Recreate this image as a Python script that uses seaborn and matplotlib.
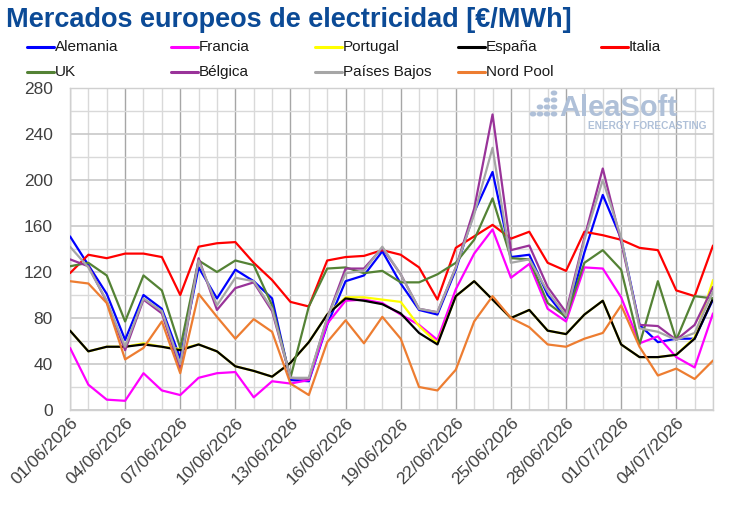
import numpy as np
import pandas as pd
import matplotlib
matplotlib.use("Agg")
import matplotlib.pyplot as plt
import matplotlib.dates as mdates
from matplotlib.lines import Line2D
import seaborn as sns

fechas = pd.date_range("2026-06-01", periods=36, freq="D")

alemania = [151, 126, 101, 61, 100, 88, 45, 124, 97, 122, 112, 97, 26, 25, 74, 112, 117, 138, 110, 87,
            83, 122, 172, 207, 133, 135, 100, 80, 137, 187, 149, 74, 59, 62, 62, 96]
francia = [54, 22, 9, 8, 32, 17, 13, 28, 32, 33, 11, 25, 23, 26, 75, 95, 96, 93, 83, 74,
           61, 105, 136, 157, 115, 127, 88, 77, 124, 123, 98, 58, 64, 46, 37, 84]
portugal = [69, 51, 55, 55, 58, 55, 53, 57, 51, 38, 34, 29, 41, 59, 83, 98, 98, 96, 94, 73,
            58, 99, 112, 96, 80, 87, 69, 66, 83, 95, 57, 46, 46, 48, 63, 113]
espana = [69, 51, 55, 55, 57, 55, 52, 57, 51, 38, 34, 29, 41, 59, 83, 97, 95, 92, 84, 67,
          57, 99, 112, 96, 80, 87, 69, 66, 83, 95, 57, 46, 46, 48, 62, 97]
italia = [119, 135, 132, 136, 136, 133, 100, 142, 145, 146, 128, 113, 94, 90, 130, 133, 134, 139, 135, 124,
          96, 141, 151, 161, 149, 155, 128, 121, 155, 152, 148, 141, 139, 104, 99, 143]
uk = [125, 128, 117, 77, 117, 104, 54, 130, 120, 130, 126, 91, 28, 90, 123, 124, 119, 121, 111, 111,
      118, 128, 148, 184, 132, 131, 93, 81, 128, 139, 122, 57, 112, 61, 99, 97]
belgica = [131, 125, 94, 52, 96, 84, 36, 132, 87, 106, 111, 86, 28, 27, 80, 123, 123, 141, 118, 88,
           85, 124, 175, 257, 139, 143, 107, 85, 150, 210, 146, 74, 73, 61, 74, 107]
paises_bajos = [142, 124, 95, 55, 97, 86, 40, 130, 91, 115, 112, 88, 28, 28, 80, 119, 121, 142, 118, 88,
                85, 124, 170, 228, 128, 131, 103, 82, 148, 200, 150, 71, 68, 61, 67, 103]
nord_pool = [112, 110, 93, 44, 54, 77, 32, 101, 81, 62, 79, 68, 23, 13, 59, 78, 58, 81, 62, 20,
             17, 35, 77, 99, 80, 72, 57, 55, 62, 67, 91, 55, 30, 36, 27, 43]

mercados = ["Alemania", "Francia", "Portugal", "España", "Italia", "UK", "Bélgica", "Países Bajos", "Nord Pool"]
series = [alemania, francia, portugal, espana, italia, uk, belgica, paises_bajos, nord_pool]
colores = ["#0000FF", "#FF00FF", "#FFFF00", "#000000", "#FF0000", "#548235", "#993399", "#A6A6A6", "#ED7D31"]

df = pd.concat([pd.DataFrame({"fecha": fechas, "precio": v, "mercado": m}) for m, v in zip(mercados, series)],
               ignore_index=True)

sns.set_style("white")
plt.rcParams["font.family"] = ["Liberation Sans", "DejaVu Sans"]

W, H = 730, 509
fig = plt.figure(figsize=(W / 100, H / 100), dpi=100)
ax = fig.add_axes([70 / W, 1 - 410 / H, (713 - 70) / W, (410 - 88) / H])

sns.lineplot(data=df, x="fecha", y="precio", hue="mercado", hue_order=mercados,
             palette=dict(zip(mercados, colores)), linewidth=1.6, legend=False, ax=ax, zorder=3)

ax.set_xlim(fechas[0], fechas[-1])
ax.set_ylim(0, 280)
ax.set_yticks(np.arange(0, 281, 40))
ax.set_yticks(np.arange(0, 281, 20), minor=True)
ax.set_xticks(fechas[::3])
ax.set_xticks(fechas, minor=True)
ax.xaxis.set_major_formatter(mdates.DateFormatter("%d/%m/%Y"))
ax.grid(which="minor", axis="both", color="#D9D9D9", linewidth=1.0, zorder=0)
ax.grid(which="major", axis="y", color="#C8C8C8", linewidth=1.2, zorder=0)
ax.grid(which="major", axis="x", color="#A6A6A6", linewidth=1.0, zorder=0)
ax.set_axisbelow(True)
for s in ax.spines.values():
    s.set_visible(True)
    s.set_color("#D0D0D0")
    s.set_linewidth(1.0)
ax.tick_params(axis="both", which="both", length=0, colors="#404040")
ax.tick_params(axis="y", labelsize=12.5, pad=12.5)
ax.tick_params(axis="x", labelsize=12.5, pad=4)
for lab in ax.get_xticklabels():
    lab.set_rotation(45)
    lab.set_ha("right")
    lab.set_rotation_mode("anchor")
ax.set_xlabel("")
ax.set_ylabel("")

fig.text(6 / W, 1 - 20 / H, "Mercados europeos de electricidad [€/MWh]", fontsize=19.5, fontweight="bold",
         color="#0B4A96", ha="left", va="center")

# legend (row-major, 5 columns)
col_x = [27, 171, 315, 458, 601]
row_y = [47, 72]
for k, (m, c) in enumerate(zip(mercados, colores)):
    r, cidx = divmod(k, 5)
    x0 = col_x[cidx]
    y0 = 1 - row_y[r] / H
    fig.add_artist(Line2D([x0 / W, (x0 + 27) / W], [y0, y0], color=c, linewidth=2.2,
                          transform=fig.transFigure))
    fig.text((x0 + 28) / W, y0, m, fontsize=11, color="#1A1A1A", ha="left", va="center")

# watermark
ax.text((677 - 70) / 643, (410 - 108) / 322, "AleaSoft", transform=ax.transAxes, fontsize=21,
        fontweight="bold", color="#AFC0D8", ha="right", va="center", zorder=1)
ax.text((707 - 70) / 643, (410 - 126) / 322, "ENERGY FORECASTING", transform=ax.transAxes, fontsize=7.3,
        fontweight="bold", color="#AFC0D8", ha="right", va="center", zorder=1)
dots = [(533, 114), (540, 114), (540, 107), (547, 114), (547, 107), (547, 100), (554, 114), (554, 107),
        (554, 100), (554, 93)]
for (px, py) in dots:
    fig.add_artist(matplotlib.patches.Circle((px / W, 1 - py / H), radius=2.6 / W, color="#AFC0D8",
                                             transform=fig.transFigure))

fig.savefig("out.png", dpi=100)
